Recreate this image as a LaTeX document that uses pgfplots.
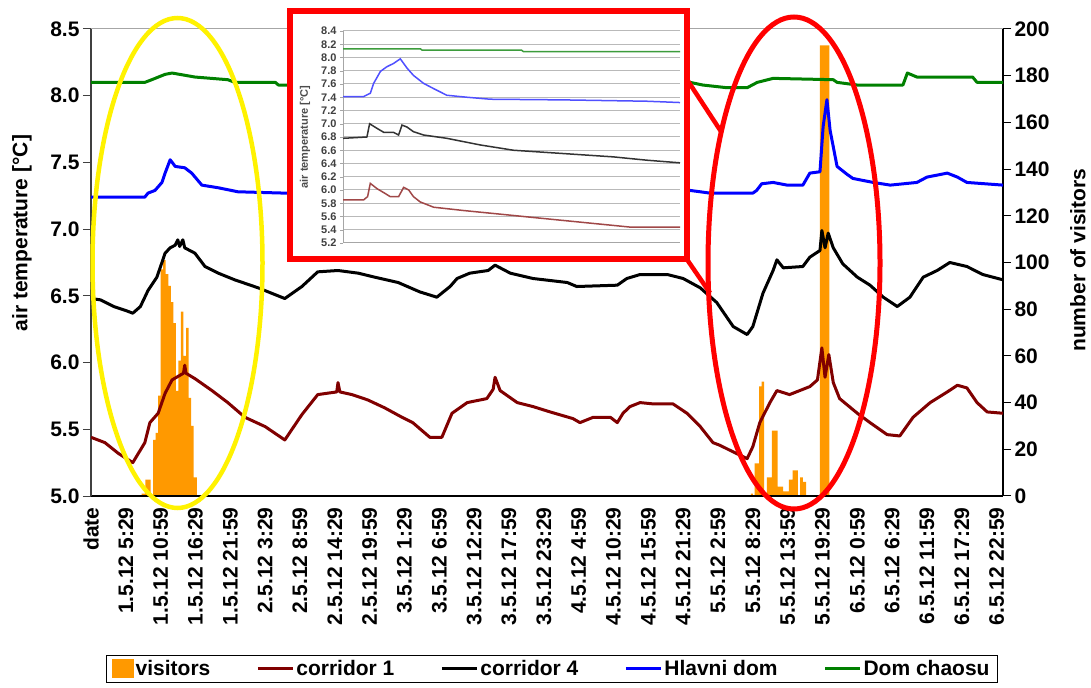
\documentclass[border=0pt]{standalone}
\usepackage{fontspec}
\setmainfont{Liberation Sans}
\usepackage{pgfplots}
\pgfplotsset{compat=1.18}
\definecolor{vis}{HTML}{FF9900}
\definecolor{cor1}{HTML}{800000}
\definecolor{hdom}{HTML}{0000FF}
\definecolor{dch}{HTML}{008000}
\definecolor{axgray}{HTML}{404040}
\definecolor{igreen}{HTML}{3C9C3C}
\definecolor{iblue}{HTML}{5050FF}
\definecolor{iblack}{HTML}{333333}
\definecolor{ibrown}{HTML}{A04848}
\newcommand{\bigf}{\fontsize{21bp}{25bp}\selectfont\bfseries}
\newcommand{\smallf}{\fontsize{11bp}{13bp}\selectfont\bfseries}
\begin{document}
\begin{tikzpicture}
% ---------- visitors (right axis) ----------
\begin{axis}[
  scale only axis, width=912bp, height=467bp, at={(91bp,192bp)}, anchor=south west,
  xmin=0, xmax=144, ymin=0, ymax=200,
  axis x line=none, axis y line*=right,
  axis line style={-, black, line width=1.2bp},
  ytick={0,20,40,60,80,100,120,140,160,180,200},
  tick align=outside, major tick length=8bp,
  tick style={black, line width=1bp},
  /pgf/number format/assume math mode=true,
  yticklabel style={font=\bigf},
  ylabel={number of visitors},
  ylabel style={font=\bigf, at={(axis description cs:1.082,0.505)}, anchor=center},
]
\addplot[ybar interval, fill=vis, draw=none, forget plot] coordinates {
(8.0,1)(8.6,7)(9.4,0)(9.8,24)(10.2,27)(10.6,43)(11.0,97)(11.4,101)(11.8,95)(12.2,90)
(12.6,83)(13.0,74)(13.4,45)(13.8,58)(14.2,79)(14.6,60)(15.0,72)(15.4,42)(15.8,30)(16.2,8)
(16.7,0)
(104.2,1)(104.5,0)(104.8,14)(105.5,47)(105.9,49)(106.3,1)(106.7,8)(107.5,28)(108.4,4)
(109.3,2)(110.2,7)(110.8,11)(111.6,0)(111.95,8)(112.4,6)(112.9,0)(115.1,193)(116.6,0)
};
\end{axis}
% ---------- temperatures (left axis) ----------
\begin{axis}[
  scale only axis, width=912bp, height=467bp, at={(91bp,192bp)}, anchor=south west,
  xmin=0, xmax=144, ymin=5, ymax=8.5,
  axis x line*=bottom, axis y line*=left,
  axis line style={-, line width=1.2bp},
  x axis line style={black}, y axis line style={axgray},
  xtick={0,5.5,11,16.5,22,27.5,33,38.5,44,49.5,55,60.5,66,71.5,77,82.5,88,93.5,99,104.5,110,115.5,121,126.5,132,137.5,143},
  xticklabels={date,1.5.12 5:29,1.5.12 10:59,1.5.12 16:29,1.5.12 21:59,2.5.12 3:29,2.5.12 8:59,2.5.12 14:29,2.5.12 19:59,3.5.12 1:29,3.5.12 6:59,3.5.12 12:29,3.5.12 17:59,3.5.12 23:29,4.5.12 4:59,4.5.12 10:29,4.5.12 15:59,4.5.12 21:29,5.5.12 2:59,5.5.12 8:29,5.5.12 13:59,5.5.12 19:29,6.5.12 0:59,6.5.12 6:29,6.5.12 11:59,6.5.12 17:29,6.5.12 22:59},
  x tick style={draw=none},
  xticklabel style={rotate=90, anchor=east, font=\bigf},
  ytick={5,5.5,6,6.5,7,7.5,8,8.5},
  tick align=outside, major tick length=8bp,
  y tick style={axgray, line width=1bp},
  /pgf/number format/assume math mode=true,
  yticklabel style={font=\bigf, /pgf/number format/.cd, fixed, fixed zerofill, precision=1},
  ylabel={air temperature [°C]},
  ylabel style={font=\bigf, at={(axis description cs:-0.0757,0.563)}, anchor=center},
  legend columns=5,
  legend style={at={(axis description cs:0.5055,-0.3704)}, anchor=center,
    draw=black, line width=1.2bp, font=\bigf, inner xsep=6bp, inner ysep=3bp,
    /tikz/every even column/.append style={column sep=44bp}},
  legend cell align=left,
]
\addlegendimage{legend image code/.code={\fill[vis] (0bp,-8bp) rectangle (20bp,9bp);}}
\addlegendentry{visitors}
\addlegendimage{legend image code/.code={\draw[cor1, line width=3bp] (0bp,0bp) -- (35bp,0bp);}}
\addlegendentry{corridor 1}
\addlegendimage{legend image code/.code={\draw[black, line width=3bp] (0bp,0bp) -- (35bp,0bp);}}
\addlegendentry{corridor 4}
\addlegendimage{legend image code/.code={\draw[hdom, line width=3bp] (0bp,0bp) -- (35bp,0bp);}}
\addlegendentry{Hlavni dom}
\addlegendimage{legend image code/.code={\draw[dch, line width=3bp] (0bp,0bp) -- (35bp,0bp);}}
\addlegendentry{Dom chaosu}
% Dom chaosu
\addplot[dch, line width=3bp, line join=round, forget plot] coordinates {
(0,8.10)(8.5,8.10)(9.6,8.12)(11.7,8.16)(12.8,8.17)(16.4,8.14)(21.6,8.12)(22.7,8.10)(29.1,8.10)
(29.6,8.08)(60,8.08)(94.6,8.10)(96.6,8.08)(100.4,8.06)(103.6,8.06)(105.2,8.10)(107.7,8.13)
(117.2,8.12)(117.8,8.10)(121.0,8.08)(128.2,8.08)(128.9,8.17)(130.4,8.14)(139.2,8.14)(139.9,8.10)(144,8.10)
};
% Hlavni dom
\addplot[hdom, line width=3bp, line join=round, forget plot] coordinates {
(0,7.24)(8.5,7.24)(9.0,7.27)(10.1,7.29)(11.2,7.35)(11.7,7.42)(12.5,7.52)(13.3,7.47)(14.8,7.46)
(15.9,7.42)(17.5,7.33)(20.1,7.31)(23.2,7.28)(30.6,7.27)(60,7.27)(94.6,7.29)(96.2,7.28)(97.7,7.27)
(104.5,7.27)(105.1,7.29)(105.9,7.34)(107.7,7.35)(109.9,7.33)(112.4,7.33)(113.5,7.42)(115.1,7.43)
(115.6,7.77)(116.2,7.97)(116.7,7.74)(117.8,7.47)(119.4,7.41)(120.3,7.38)(123.5,7.35)(126.2,7.33)
(130.4,7.35)(132.0,7.39)(135.2,7.42)(136.8,7.39)(138.3,7.35)(144,7.33)
};
% corridor 4
\addplot[black, line width=3bp, line join=round, forget plot] coordinates {
(0,6.48)(1.5,6.47)(3.6,6.42)(5.5,6.39)(6.6,6.37)(7.8,6.42)(9.0,6.54)(10.4,6.64)(11.2,6.75)
(11.7,6.82)(12.5,6.86)(13.3,6.88)(13.7,6.92)(14.0,6.87)(14.5,6.92)(14.8,6.86)(16.4,6.82)(18.0,6.72)
(20.1,6.67)(22.7,6.62)(26.4,6.56)(30.6,6.48)(33.3,6.57)(35.8,6.68)(39.0,6.69)(42.2,6.67)(44.8,6.64)
(48.5,6.60)(51.9,6.53)(54.6,6.49)(56.7,6.57)(57.8,6.63)(59.8,6.67)(62.7,6.69)(63.8,6.73)(66.2,6.67)
(69.8,6.63)(75.2,6.60)(76.7,6.57)(83.1,6.58)(84.6,6.63)(86.7,6.66)(91.0,6.66)(93.5,6.63)(96.2,6.56)
(98.8,6.45)(101.4,6.27)(103.6,6.21)(104.5,6.27)(106.1,6.52)(107.7,6.69)(108.3,6.77)(109.3,6.71)
(112.4,6.72)(113.5,6.79)(115.1,6.84)(115.4,6.99)(115.9,6.86)(116.4,6.97)(117.2,6.86)(118.7,6.74)
(121.0,6.64)(123.0,6.58)(125.1,6.49)(127.3,6.42)(129.3,6.49)(131.4,6.64)(133.6,6.69)(135.6,6.75)
(138.3,6.72)(140.8,6.66)(144,6.62)
};
% corridor 1
\addplot[cor1, line width=3bp, line join=round, forget plot] coordinates {
(0,5.44)(2.2,5.40)(4.3,5.32)(6.6,5.25)(8.5,5.40)(9.3,5.55)(10.6,5.62)(11.7,5.77)(12.8,5.87)
(14.6,5.92)(14.8,5.98)(15.0,5.92)(16.4,5.88)(19.1,5.79)(21.6,5.70)(24.3,5.59)(27.5,5.52)(30.6,5.42)
(33.3,5.61)(35.8,5.76)(38.8,5.78)(39.0,5.85)(39.3,5.78)(41.2,5.76)(43.7,5.72)(46.4,5.66)(49.1,5.59)
(50.8,5.55)(53.5,5.44)(55.4,5.44)(57.0,5.62)(59.4,5.70)(62.5,5.73)(63.5,5.80)(63.8,5.89)(64.6,5.79)
(67.3,5.70)(69.8,5.67)(72.5,5.63)(76.1,5.58)(77.2,5.55)(79.3,5.59)(82.0,5.59)(83.1,5.55)(84.0,5.62)
(85.1,5.67)(86.7,5.70)(88.8,5.69)(91.9,5.69)(94.1,5.62)(96.2,5.52)(98.2,5.40)(99.3,5.38)(101.0,5.34)
(103.6,5.28)(104.5,5.37)(105.6,5.55)(107.2,5.70)(108.3,5.79)(110.3,5.76)(113.5,5.82)(114.7,5.87)
(115.4,6.11)(115.9,5.89)(116.5,6.06)(117.2,5.85)(118.2,5.73)(121.0,5.62)(123.0,5.55)(125.7,5.46)
(127.7,5.45)(129.8,5.59)(132.5,5.70)(135.2,5.78)(136.8,5.83)(138.3,5.81)(139.9,5.70)(141.5,5.63)(144,5.62)
};
\draw[gray!70, line width=1bp] (rel axis cs:0,1) -- (rel axis cs:1,1);
\end{axis}
% ---------- annotations ----------
\draw[yellow, line width=4.5bp] (177.5bp,425bp) ellipse [x radius=85bp, y radius=245bp];
\draw[red, line width=5bp] (794bp,425bp) ellipse [x radius=86bp, y radius=246bp];
\draw[red, line width=4.5bp] (686bp,610bp) -- (722bp,555bp);
\draw[red, line width=4.5bp] (686bp,430bp) -- (710bp,395bp);
\draw[red, line width=5.5bp, fill=white] (290bp,429bp) rectangle (687bp,677bp);
% ---------- inset ----------
\begin{axis}[
  scale only axis, width=337bp, height=212bp, at={(343bp,445bp)}, anchor=south west,
  xmin=0, xmax=100, ymin=5.2, ymax=8.4,
  xtick=\empty,
  ytick={5.2,5.4,5.6,5.8,6.0,6.2,6.4,6.6,6.8,7.0,7.2,7.4,7.6,7.8,8.0,8.2,8.4},
  ymajorgrids, grid style={gray!55, line width=1bp},
  axis x line*=bottom, axis y line*=left,
  axis line style={-, gray!70, line width=1bp},
  tick align=outside, major tick length=3bp, tick style={gray!70},
  /pgf/number format/assume math mode=true,
  yticklabel style={font=\smallf, text=black!75, /pgf/number format/.cd, fixed, fixed zerofill, precision=1},
  ylabel={air temperature [°C]},
  ylabel style={font=\smallf, text=black!70, at={(axis description cs:-0.113,0.5)}, anchor=center},
]
\addplot[igreen, line width=1.5bp] coordinates {
(0,8.13)(23,8.13)(23.5,8.11)(53,8.11)(53.5,8.09)(100,8.09)
};
\addplot[iblue, line width=1.5bp] coordinates {
(0,7.41)(6.1,7.41)(8.1,7.46)(9.1,7.61)(11.1,7.79)(13.0,7.86)(15.0,7.91)(17.0,7.98)(19.0,7.84)
(20.9,7.73)(23.9,7.61)(26.9,7.53)(30.8,7.43)(36.8,7.40)(43.7,7.37)(65.4,7.36)(90.1,7.34)(100,7.32)
};
\addplot[iblack, line width=1.5bp] coordinates {
(0,6.78)(7.1,6.80)(7.9,7.00)(10.1,6.93)(12.1,6.87)(15.0,6.87)(16.5,6.83)(17.5,6.98)(19.0,6.95)
(20.9,6.88)(23.9,6.83)(30.8,6.78)(40.7,6.68)(50.6,6.60)(65.4,6.55)(80.2,6.50)(90.1,6.45)(100,6.41)
};
\addplot[ibrown, line width=1.5bp] coordinates {
(0,5.85)(6.1,5.85)(7.3,5.90)(8.1,6.10)(10.1,6.02)(12.1,5.96)(14.0,5.90)(16.5,5.90)(18.0,6.04)
(19.5,6.00)(20.9,5.90)(22.9,5.82)(26.9,5.74)(35.8,5.69)(45.7,5.64)(55.5,5.59)(65.4,5.54)
(75.3,5.49)(85.2,5.44)(100,5.44)
};
\end{axis}
\pgfresetboundingbox
\useasboundingbox (0,0) rectangle (1091bp,688bp);
\end{tikzpicture}
\end{document}
